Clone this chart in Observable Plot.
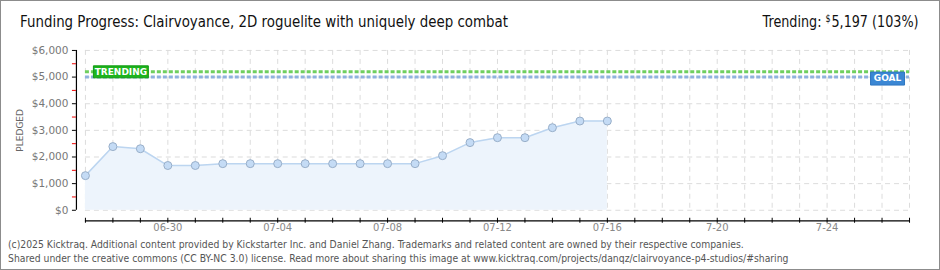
<!DOCTYPE html>
<html><head><meta charset="utf-8">
<script src="https://cdn.jsdelivr.net/npm/d3@7"></script>
<script src="https://cdn.jsdelivr.net/npm/@observablehq/plot@0.6"></script>
<style>
body{margin:0;background:#fff}
#wrap{position:relative;width:940px;height:270px;box-sizing:border-box;border:1px solid #8c8c8c;overflow:hidden;background:#fff}
#chart{position:absolute;left:-1px;top:-1px}
#title{position:absolute;left:19px;top:11px;font-family:"DejaVu Sans",sans-serif;font-size:16px;color:#111;white-space:nowrap;transform-origin:0 0}
#trend{position:absolute;right:20px;top:11px;font-family:"DejaVu Sans",sans-serif;font-size:16px;color:#111;white-space:nowrap;transform-origin:100% 0}
#trend .d{font-size:10px;vertical-align:5px;margin-right:1px}
#foot{position:absolute;left:7px;top:236px;font-family:"DejaVu Sans Condensed",sans-serif;font-size:10.3px;color:#555;line-height:14px;white-space:nowrap}
</style></head>
<body>
<div id="wrap">
  <div id="chart"></div>
  <div id="title">Funding Progress: Clairvoyance, 2D roguelite with uniquely deep combat</div>
  <div id="trend">Trending: <span class="d">$</span>5,197 (103%)</div>
  <div id="foot">(c)2025 Kicktraq. Additional content provided by Kickstarter Inc. and Daniel Zhang. Trademarks and related content are owned by their respective companies.<br>Shared under the creative commons (CC BY-NC 3.0) license. Read more about sharing this image at www.kicktraq.com/projects/danqz/clairvoyance-p4-studios/#sharing</div>
</div>
<script>
// ---- data ----
const dates = ["2025-06-27","2025-06-28","2025-06-29","2025-06-30","2025-07-01","2025-07-02","2025-07-03","2025-07-04","2025-07-05","2025-07-06","2025-07-07","2025-07-08","2025-07-09","2025-07-10","2025-07-11","2025-07-12","2025-07-13","2025-07-14","2025-07-15","2025-07-16"];
const pledged = [1300, 2390, 2310, 1680, 1680, 1750, 1750, 1750, 1750, 1750, 1750, 1750, 1750, 2050, 2540, 2725, 2725, 3100, 3350, 3350];
const trending = 5197;
const goal = 5000;
const xStart = "2025-06-27";
const xEnd = "2025-07-27";
const xLabelDates = ["2025-06-30","2025-07-04","2025-07-08","2025-07-12","2025-07-16","2025-07-20","2025-07-24"];
const xLabels = ["06-30","07-04","07-08","07-12","07-16","7-20","7-24"];
const yTicks = [0,1000,2000,3000,4000,5000,6000];
const yTickLabels = ["$0","$1,000","$2,000","$3,000","$4,000","$5,000","$6,000"];
const yMinorTicks = [500,1500,2500,3500,4500,5500];

// ---- build ----
const parse = s => new Date(s + "T00:00:00Z");
const data = dates.map((d, i) => ({date: parse(d), value: pledged[i]}));
const start = parse(xStart), end = parse(xEnd);
const allDays = d3.utcDay.range(start, d3.utcDay.offset(end, 1));
const labelDates = xLabelDates.map(parse);
const boxSym = (w, h) => ({draw(ctx) { ctx.rect(-w / 2, -h / 2, w, h); }});
const tickFont = "DejaVu Sans, sans-serif";

const plot = Plot.plot({
  width: 940, height: 270,
  marginLeft: 85, marginRight: 30, marginTop: 50, marginBottom: 60,
  x: {type: "utc", domain: [start, end]},
  y: {domain: [0, 6000]},
  style: {background: "transparent", overflow: "visible"},
  marks: [
    Plot.gridY({ticks: yTicks, stroke: "#dcdcdc", strokeOpacity: 1, strokeDasharray: "5,4"}),
    Plot.gridX({ticks: allDays, stroke: "#dcdcdc", strokeOpacity: 1, strokeDasharray: "5,4"}),
    Plot.areaY(data, {x: "date", y: "value", fill: "#edf4fc"}),
    Plot.lineY(data, {x: "date", y: "value", stroke: "#bcd5f0", strokeWidth: 1.5}),
    Plot.dot(data, {x: "date", y: "value", r: 4, fill: "#c4dbf5", stroke: "#98aec8", strokeWidth: 1}),
    Plot.ruleY([goal], {stroke: "#8fb2de", strokeWidth: 3, strokeDasharray: "4,2"}),
    Plot.ruleY([trending], {stroke: "#6fcf5f", strokeWidth: 3, strokeDasharray: "4,2"}),
    // trending label
    Plot.dot([trending], {y: d => d, frameAnchor: "left", dx: 35.5, symbol: boxSym(55, 12), fill: "#1db41d", stroke: "#129a12", strokeWidth: 1}),
    Plot.text([trending], {y: d => d, frameAnchor: "left", textAnchor: "middle", dx: 35.5, text: () => "TRENDING", fill: "white", fontSize: 9, fontWeight: "bold", fontFamily: tickFont}),
    // goal label
    Plot.dot([goal], {y: d => d, frameAnchor: "right", dx: -22, dy: 1.5, symbol: boxSym(34, 13), fill: "#3b87d4", stroke: "#2f76c0", strokeWidth: 1}),
    Plot.text([goal], {y: d => d, frameAnchor: "right", textAnchor: "middle", dx: -22, dy: 1.5, text: () => "GOAL", fill: "white", fontSize: 9, fontWeight: "bold", fontFamily: tickFont}),
    // y axis
    Plot.ruleX([start], {y1: () => 0, y2: () => 6000, dx: -9, stroke: "#000", strokeWidth: 1.2}),
    Plot.axisY({ticks: yTicks, tickFormat: d => yTickLabels[yTicks.indexOf(d)], tickSize: 4, tickPadding: 4, dx: -9, stroke: "#000", fill: "#777", fontSize: 10.5, fontFamily: tickFont, label: null}),
    Plot.axisY({ticks: yMinorTicks, tickFormat: () => "", tickSize: 4, dx: -9, stroke: "#e00", label: null}),
    Plot.text(["PLEDGED"], {text: d => d, frameAnchor: "left", textAnchor: "middle", dx: -65, rotate: -90, fill: "#666", fontSize: 9, fontFamily: tickFont, letterSpacing: 1.2}),
    // x axis
    Plot.ruleY([0], {dy: 10.7, stroke: "#000", strokeWidth: 1.2}),
    Plot.axisX({ticks: allDays, tickFormat: () => "", tickSize: 5, dy: 8, stroke: "#000", label: null}),
    Plot.axisX({ticks: labelDates, tickFormat: (d) => xLabels[labelDates.findIndex(t => +t === +d)], tickSize: 0, tickPadding: 0, dy: 14, fill: "#888", fontSize: 10, fontFamily: tickFont, label: null})
  ]
});
document.getElementById("chart").appendChild(plot);

// fit header texts to the reference widths
function fitWidth(id, target) {
  const el = document.getElementById(id);
  const w = el.getBoundingClientRect().width;
  if (w > 0) el.style.transform = `scaleX(${target / w})`;
}
fitWidth("title", 488);
fitWidth("trend", 156);
</script>
</body></html>
